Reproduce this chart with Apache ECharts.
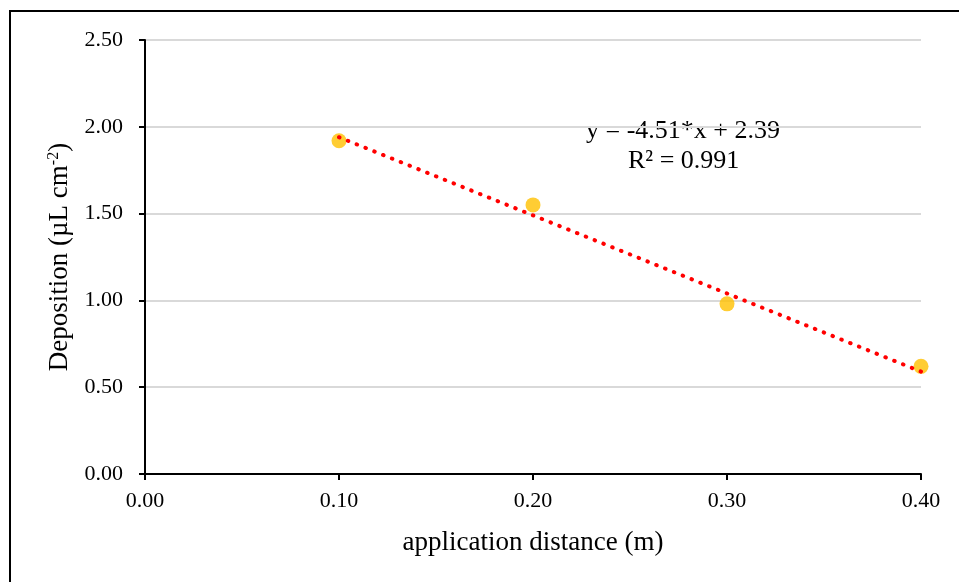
<!DOCTYPE html>
<html>
<head>
<meta charset="utf-8">
<script src="https://cdn.jsdelivr.net/npm/echarts@6/dist/echarts.min.js"></script>
<style>html,body{margin:0;padding:0;background:#fff;}#c{width:959px;height:582px;}</style>
</head>
<body>
<div id="c"></div>
<script>
var xValues = [0.1, 0.2, 0.3, 0.4];
var depositions = [1.92, 1.55, 0.98, 0.62];
var trendX = [0.1, 0.4];
var trendY = [1.94, 0.59];
var xTicks = ['0.00', '0.10', '0.20', '0.30', '0.40'];
var yTicks = ['0.00', '0.50', '1.00', '1.50', '2.00', '2.50'];
var equationText = 'y = -4.51*x + 2.39';
var r2Text = 'R² = 0.991';

var font = 'Liberation Serif';
var chart = echarts.init(document.getElementById('c'), null, {renderer: 'canvas'});
chart.setOption({
  backgroundColor: '#fff',
  animation: false,
  grid: {left: 145, right: 38, top: 40, bottom: 108},
  xAxis: {
    type: 'value', min: 0, max: 0.4, interval: 0.1,
    name: 'application distance (m)', nameLocation: 'middle', nameGap: 55,
    nameTextStyle: {fontFamily: font, fontSize: 27, color: '#000'},
    axisLine: {show: true, lineStyle: {color: '#000', width: 2}},
    axisTick: {show: true, inside: false, length: 6, lineStyle: {color: '#000', width: 2}},
    axisLabel: {fontFamily: font, fontSize: 22, color: '#000', margin: 16,
      formatter: function (v) { return xTicks[Math.round(v / 0.1)]; }},
    splitLine: {show: false}
  },
  yAxis: {
    type: 'value', min: 0, max: 2.5, interval: 0.5,
    name: 'Deposition (µL cm{sup|-2})', nameLocation: 'middle', nameGap: 67,
    nameTextStyle: {fontFamily: font, fontSize: 27, color: '#000',
      rich: {sup: {fontFamily: font, fontSize: 16, color: '#000', verticalAlign: 'top', padding: [0, 0, 12, 0]}}},
    axisLine: {show: true, lineStyle: {color: '#000', width: 2}},
    axisTick: {show: true, inside: false, length: 6, lineStyle: {color: '#000', width: 2}},
    axisLabel: {fontFamily: font, fontSize: 22, color: '#000', margin: 22,
      formatter: function (v) { return yTicks[Math.round(v / 0.5)]; }},
    splitLine: {show: true, lineStyle: {color: '#d9d9d9', width: 2}}
  },
  series: [
    {
      type: 'scatter', symbol: 'circle', symbolSize: 15,
      itemStyle: {color: '#FFC000'},
      data: xValues.map(function (x, i) { return [x, depositions[i]]; }),
      z: 2
    },
    {
      type: 'line', symbol: 'none',
      lineStyle: {color: '#FF0000', width: 4, type: [0.5, 9], cap: 'round'},
      data: trendX.map(function (x, i) { return [x, trendY[i]]; }),
      z: 3
    }
  ],
  graphic: [
    {type: 'rect', shape: {x: 10, y: 11, width: 1000, height: 1000},
      style: {fill: 'none', stroke: '#000', lineWidth: 2}, silent: true},
    {type: 'text', left: 586, top: 118,
      style: {text: equationText, fontFamily: font, fontSize: 26, fill: '#000'}},
    {type: 'text', left: 628, top: 148,
      style: {text: r2Text, fontFamily: font, fontSize: 26, fill: '#000'}}
  ]
});
</script>
</body>
</html>
